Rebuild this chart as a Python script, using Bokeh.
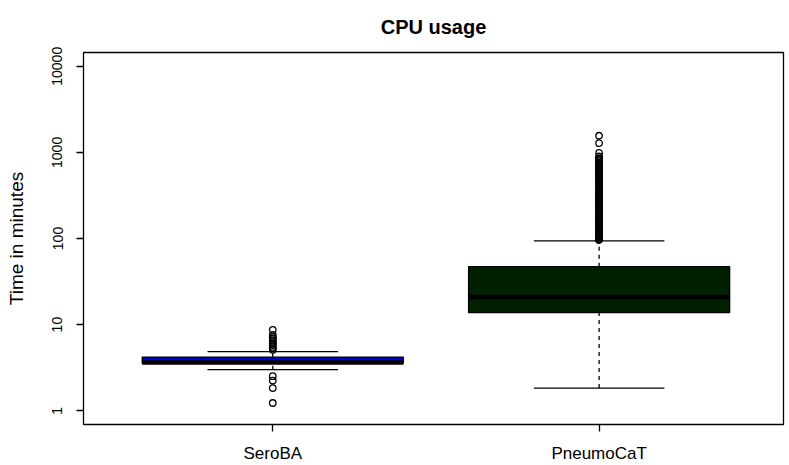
from bokeh.plotting import figure
from bokeh.models import Range1d, FixedTicker, CustomJSTickFormatter, ColumnDataSource
from bokeh.embed import file_html
from bokeh.resources import INLINE

# ---- data ----
title_text = "CPU usage"
categories = ["SeroBA", "PneumoCaT"]
q1 = [3.55, 13.8]
median = [3.62, 20.9]
q3 = [4.2, 47.1]
lower_whisker = [3.0, 1.83]
upper_whisker = [4.85, 94.0]
fill_colors = ["#0000CD", "#002000"]

seroba_outliers = [8.7, 7.6, 7.2, 6.9, 6.6, 6.3, 6.0, 5.8, 5.5, 5.3, 5.1,
                   2.52, 2.24, 1.83, 1.23]
pneumocat_outliers = [96, 97, 98, 99, 100, 101, 103, 105, 107, 109, 111, 113,
                      116, 119, 122, 125, 128, 131, 135, 139, 143, 147, 151,
                      156, 161, 166, 171, 177, 183, 189, 195, 202, 209, 216,
                      224, 232, 240, 249, 258, 267, 277, 287, 297, 308, 319,
                      331, 343, 356, 369, 383, 397, 412, 427, 443, 459, 476,
                      494, 512, 531, 551, 571, 592, 614, 637, 660, 684, 709,
                      735, 762, 790, 815, 840, 860, 900, 985, 1280, 1560]
y_ticks = [1, 10, 100, 1000, 10000]

FONT = "Liberation Sans"
LW = 1.3
box_half = 0.4
cap_half = 0.2

positions = [i + 1 for i in range(len(categories))]

p = figure(width=789, height=465,
           x_range=Range1d(0.42, 2.565),
           y_range=Range1d(10 ** -0.16, 10 ** 4.16),
           y_axis_type="log",
           output_backend="svg", toolbar_location=None,
           min_border_left=83, min_border_right=6,
           min_border_top=52, min_border_bottom=40)

# title
p.title.text = title_text
p.title.align = "center"
p.title.vertical_align = "top"
p.title.text_font = FONT
p.title.text_font_size = "20px"
p.title.text_font_style = "bold"
p.title.text_color = "black"
p.title.standoff = 25

p.grid.visible = False
p.outline_line_color = "black"
p.outline_line_width = LW
p.outline_line_alpha = 1.0
p.background_fill_color = "white"
p.border_fill_color = "white"

for ax in (p.xaxis[0], p.yaxis[0]):
    ax.axis_line_color = None
    ax.major_tick_out = 7
    ax.major_tick_in = 0
    ax.major_tick_line_color = "black"
    ax.major_tick_line_width = LW
    ax.minor_tick_line_color = None
    ax.major_label_text_color = "black"
    ax.major_label_text_font = FONT

p.xaxis.ticker = FixedTicker(ticks=positions)
p.xaxis.major_label_overrides = {pos: name for pos, name in zip(positions, categories)}
p.xaxis.major_label_text_font_size = "17px"
p.xaxis.major_label_standoff = 12

p.yaxis.ticker = FixedTicker(ticks=y_ticks, minor_ticks=[])
p.yaxis.formatter = CustomJSTickFormatter(code="return Math.round(tick).toString();")
p.yaxis.major_label_orientation = "vertical"
p.yaxis.major_label_text_font_size = "14px"
p.yaxis.major_label_standoff = 14
p.yaxis.axis_label = "Time in minutes"
p.yaxis.axis_label_text_font = FONT
p.yaxis.axis_label_text_font_size = "19px"
p.yaxis.axis_label_text_font_style = "normal"
p.yaxis.axis_label_text_color = "black"
p.yaxis.axis_label_standoff = 23

src = ColumnDataSource(dict(
    x=positions, q1=q1, q3=q3, med=median, lo=lower_whisker, hi=upper_whisker,
    color=fill_colors,
    bx0=[x - box_half for x in positions], bx1=[x + box_half for x in positions],
    cx0=[x - cap_half for x in positions], cx1=[x + cap_half for x in positions],
))

# dashed whiskers
p.segment(x0="x", y0="q3", x1="x", y1="hi", source=src, line_color="black",
          line_width=LW, line_dash="4 4")
p.segment(x0="x", y0="lo", x1="x", y1="q1", source=src, line_color="black",
          line_width=LW, line_dash="4 4")
# caps
p.segment(x0="cx0", y0="hi", x1="cx1", y1="hi", source=src, line_color="black",
          line_width=LW)
p.segment(x0="cx0", y0="lo", x1="cx1", y1="lo", source=src, line_color="black",
          line_width=LW)
# boxes
p.vbar(x="x", width=2 * box_half, bottom="q1", top="q3", source=src,
       fill_color="color", line_color="black", line_width=LW)
# medians
p.segment(x0="bx0", y0="med", x1="bx1", y1="med", source=src, line_color="black",
          line_width=4.5, line_cap="butt")

# outliers
out_x = [positions[0]] * len(seroba_outliers) + [positions[1]] * len(pneumocat_outliers)
out_y = seroba_outliers + pneumocat_outliers
p.scatter(out_x, out_y, marker="circle", size=6.5, fill_color=None,
          line_color="black", line_width=LW)

open("out.html", "w").write(file_html(p, INLINE))
